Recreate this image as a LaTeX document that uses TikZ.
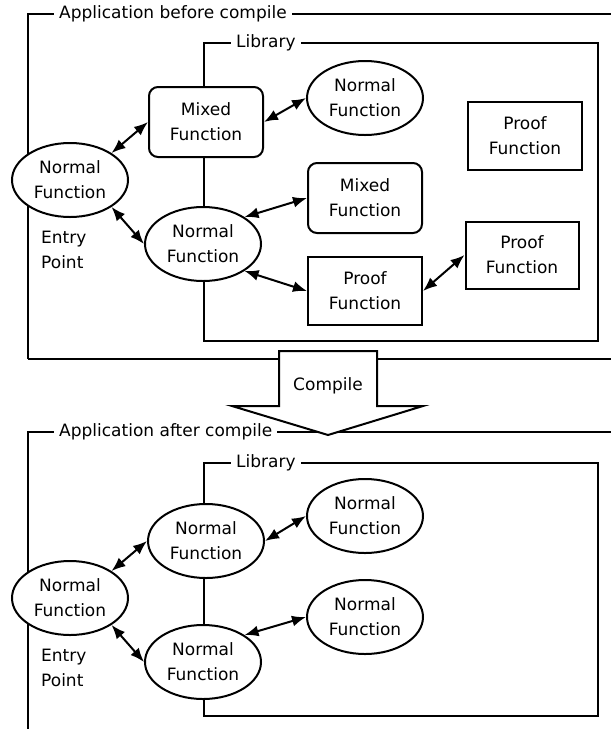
\documentclass[tikz,border=0pt]{standalone}
\usepackage{fontspec}
\setmainfont{DejaVu Sans}
\usetikzlibrary{shapes.geometric,arrows.meta}
\begin{document}
\begin{tikzpicture}[x=1pt,y=-1pt,
  every node/.style={font=\fontsize{17}{25}\selectfont},
  frame/.style={line width=2pt},
  title/.style={fill=white, inner xsep=5pt, inner ysep=2pt, anchor=west},
  normalfn/.style={ellipse, draw, line width=2pt, fill=white,
    minimum width=116pt, minimum height=74pt, align=center, inner sep=0pt},
  proofbox/.style={rectangle, draw, line width=2pt, fill=white,
    minimum width=114pt, minimum height=68pt, align=center},
  mixedbox/.style={proofbox, rounded corners=9pt, minimum height=70pt},
  link/.style={line width=2pt,
    {Latex[length=14pt,width=11pt]}-{Latex[length=14pt,width=11pt]}},
  note/.style={anchor=west, align=left, inner sep=0pt}
]
\useasboundingbox (0,0) rectangle (611,729);

% ---------- application before compile ----------
\draw[frame] (28,359) -- (28,14) -- (611,14);
\draw[frame] (28,359) -- (611,359);
\draw[frame] (204,43) rectangle (598,341);

\node[normalfn] (entryA) at (70,180) {Normal\\Function};
\node[note] (pointA) at (41,250) {Entry\\Point};
\node[mixedbox] (mixA) at (206,122) {Mixed\\Function};
\node[normalfn] (normA) at (365,98) {Normal\\Function};
\node[proofbox] (proofA) at (525,136) {Proof\\Function};
\node[mixedbox] (mixB) at (365,198) {Mixed\\Function};
\node[normalfn] (midA) at (203,244) {Normal\\Function};
\node[proofbox] (proofB) at (365,291) {Proof\\Function};
\node[proofbox, minimum width=113pt, minimum height=67pt] (proofC) at (522,255) {Proof\\Function};

\draw[link] (entryA.33) -- (mixA.west);
\draw[link] (mixA.east) -- (normA.west);
\draw[link] (entryA.-33) -- (midA.west);
\draw[link] (midA.33) -- (mixB.west);
\draw[link] (midA.-33) -- (proofB.west);
\draw[link] (proofB.east) -- (proofC.west);

\node[title] (appA) at (54,14) {Application before compile};
\node[title] (libA) at (231,43) {Library};

% ---------- application after compile ----------
\draw[frame] (28,729) -- (28,432) -- (611,432);
\draw[frame] (204,463) rectangle (598,716);

\node[normalfn] (entryB) at (70,598) {Normal\\Function};
\node[note] (pointB) at (41,668) {Entry\\Point};
\node[normalfn] (upB) at (206,541) {Normal\\Function};
\node[normalfn] (lowB) at (203,662) {Normal\\Function};
\node[normalfn] (rightB) at (365,516) {Normal\\Function};
\node[normalfn] (rightC) at (365,617) {Normal\\Function};

\draw[link] (entryB.33) -- (upB.west);
\draw[link] (upB.east) -- (rightB.west);
\draw[link] (entryB.-33) -- (lowB.west);
\draw[link] (lowB.33) -- (rightC.west);

\node[title] (appB) at (54,432) {Application after compile};
\node[title] (libB) at (231,463) {Library};

% ---------- compile arrow ----------
\draw[frame, fill=white] (279,351) -- (377,351) -- (377,406) -- (423,406)
  -- (328,435) -- (232,406) -- (279,406) -- cycle;
\node (compile) at (328,386) {Compile};
\end{tikzpicture}
\end{document}
